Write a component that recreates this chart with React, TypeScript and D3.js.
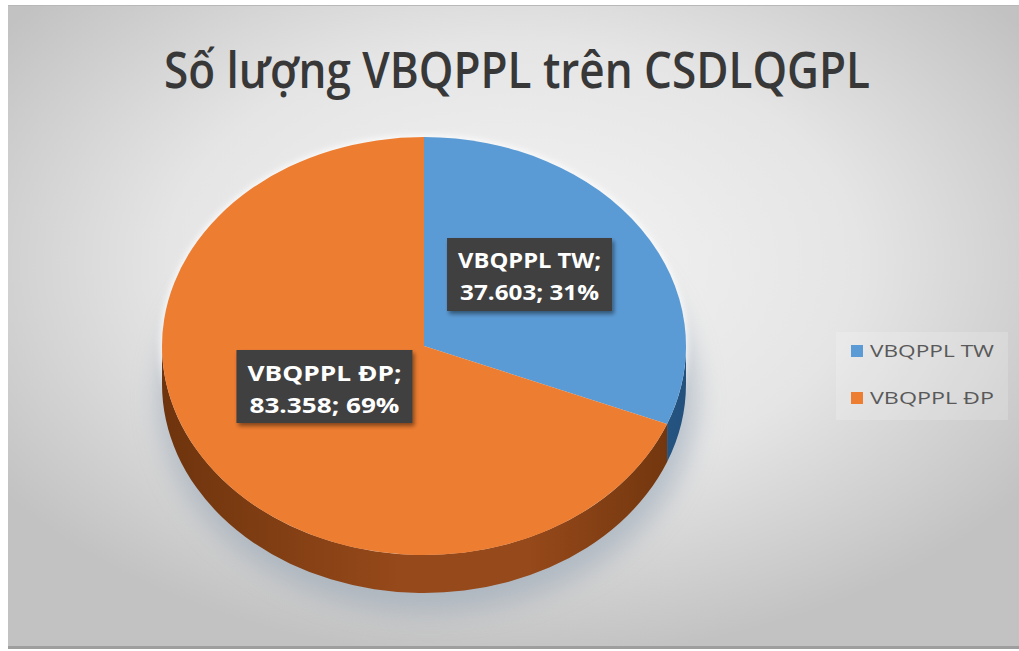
import React from "react";
import * as d3 from "d3";

const categories = ["VBQPPL TW", "VBQPPL ĐP"];
const values = [37603, 83358];
const valueLabels = ["37.603", "83.358"];
const percentLabels = ["31%", "69%"];
const topColors = ["#5B9BD5", "#ED7D31"];
const sideDark = ["#23507c", "#6e340d"];
const sideMid = ["#3a72a8", "#96491a"];
const title = "Số lượng VBQPPL trên CSDLQGPL";

const W = 1019;
const H = 651;
const cx = 424;
const cy = 346;
const rx = 262;
const ry = 209;
const depth = 38;

export default function App() {
  const pie = d3.pie<number>().sort(null).value((d) => d);
  const arcs = pie(values);
  const arcGen = d3.arc<d3.PieArcDatum<number>>().innerRadius(0).outerRadius(rx);
  const k = ry / rx;

  const pt = (a: number, dy = 0): [number, number] => [cx + rx * Math.sin(a), cy - ry * Math.cos(a) + dy];

  const sides = arcs
    .map((a, i) => {
      const a0 = Math.max(a.startAngle, Math.PI / 2);
      const a1 = Math.min(a.endAngle, (3 * Math.PI) / 2);
      if (a1 <= a0) return null;
      const p0 = pt(a0);
      const p1 = pt(a1);
      const q1 = pt(a1, depth);
      const q0 = pt(a0, depth);
      const large = a1 - a0 > Math.PI ? 1 : 0;
      const d = `M${p0[0]},${p0[1]} A${rx},${ry} 0 ${large} 1 ${p1[0]},${p1[1]} L${q1[0]},${q1[1]} A${rx},${ry} 0 ${large} 0 ${q0[0]},${q0[1]} Z`;
      return { d, i };
    })
    .filter(Boolean) as { d: string; i: number }[];

  const labelArc = d3.arc<d3.PieArcDatum<number>>().innerRadius(0).outerRadius(rx);

  return (
    <svg width={W} height={H} style={{ position: "absolute", left: 0, top: 0 }} fontFamily="'Open Sans', 'Noto Sans', sans-serif">
      <defs>
        <radialGradient id="bg" cx="0.5" cy="0.4" r="0.62">
          <stop offset="0" stopColor="#f4f4f4" />
          <stop offset="0.55" stopColor="#e5e5e5" />
          <stop offset="1" stopColor="#c2c2c2" />
        </radialGradient>
        {sideDark.map((c, i) => (
          <linearGradient key={i} id={`side${i}`} gradientUnits="userSpaceOnUse" x1={cx - rx} y1={0} x2={cx + rx} y2={0}>
            <stop offset="0" stopColor={c} />
            <stop offset="0.45" stopColor={sideMid[i]} />
            <stop offset="0.7" stopColor={sideMid[i]} />
            <stop offset="1" stopColor={c} />
          </linearGradient>
        ))}
        <filter id="blur" x="-20%" y="-20%" width="140%" height="140%">
          <feGaussianBlur stdDeviation="14" />
        </filter>
        <filter id="glow" x="-10%" y="-10%" width="120%" height="120%">
          <feGaussianBlur stdDeviation="3" />
        </filter>
        <filter id="boxShadow" x="-10%" y="-10%" width="130%" height="140%">
          <feDropShadow dx="2" dy="3" stdDeviation="2" floodColor="#000" floodOpacity="0.45" />
        </filter>
      </defs>
      <rect x={0} y={0} width={W} height={H} fill="#ffffff" />
      <rect x={8} y={5} width={W - 8} height={642} fill="url(#bg)" />
      <line x1={8} y1={5.5} x2={W} y2={5.5} stroke="#b8b8b8" strokeWidth={1} />
      <rect x={8} y={646} width={W - 8} height={3} fill="#9e9e9e" />

      <text x={517} y={88} textAnchor="middle" fontSize={50} fontWeight={600} fill="#383838" textLength={706} lengthAdjust="spacingAndGlyphs" fontFamily="'Open Sans', sans-serif">
        {title}
      </text>

      {/* shadow under pie */}
      <ellipse cx={cx + 4} cy={cy + depth + 14} rx={rx + 6} ry={ry + 4} fill="#8fa0b2" opacity={0.55} filter="url(#blur)" />
      <ellipse cx={cx} cy={cy} rx={rx + 2} ry={ry + 2} fill="#ffffff" opacity={0.8} filter="url(#glow)" />

      {sides.map((s) => (
        <path key={s.i} d={s.d} fill={`url(#side${s.i})`} />
      ))}

      <g transform={`translate(${cx},${cy}) scale(1,${k})`}>
        {arcs.map((a, i) => (
          <path key={i} d={arcGen(a) || ""} fill={topColors[i]} />
        ))}
      </g>

      {arcs.map((a, i) => {
        const [lx, ly] = labelArc.centroid(a);
        const x = cx + lx - (i === 0 ? 3 : -9);
        const y = cy + ly * k - (i === 0 ? 13 : 18);
        const bw = i === 0 ? 165 : 176;
        const bh = 73;
        return (
          <g key={i}>
            <rect x={x - bw / 2} y={y - bh / 2} width={bw} height={bh} fill="#404040" filter="url(#boxShadow)" />
            <text x={x} y={y - 6} textAnchor="middle" fontSize={22} fontWeight={700} fill="#ffffff" textLength={bw - 22} lengthAdjust="spacingAndGlyphs">
              {categories[i]};
            </text>
            <text x={x} y={y + 26} textAnchor="middle" fontSize={22} fontWeight={700} fill="#ffffff" textLength={bw - 26} lengthAdjust="spacingAndGlyphs">
              {valueLabels[i]}; {percentLabels[i]}
            </text>
          </g>
        );
      })}

      <rect x={836} y={332} width={172} height={88} fill="#ffffff" opacity={0.18} />
      {categories.map((c, i) => (
        <g key={i} transform={`translate(851,${345 + i * 47})`}>
          <rect x={0} y={0} width={12} height={12} fill={topColors[i]} />
          <text x={19} y={12} fontSize={17} fill="#595959" textLength={124} lengthAdjust="spacingAndGlyphs">
            {c}
          </text>
        </g>
      ))}
    </svg>
  );
}
